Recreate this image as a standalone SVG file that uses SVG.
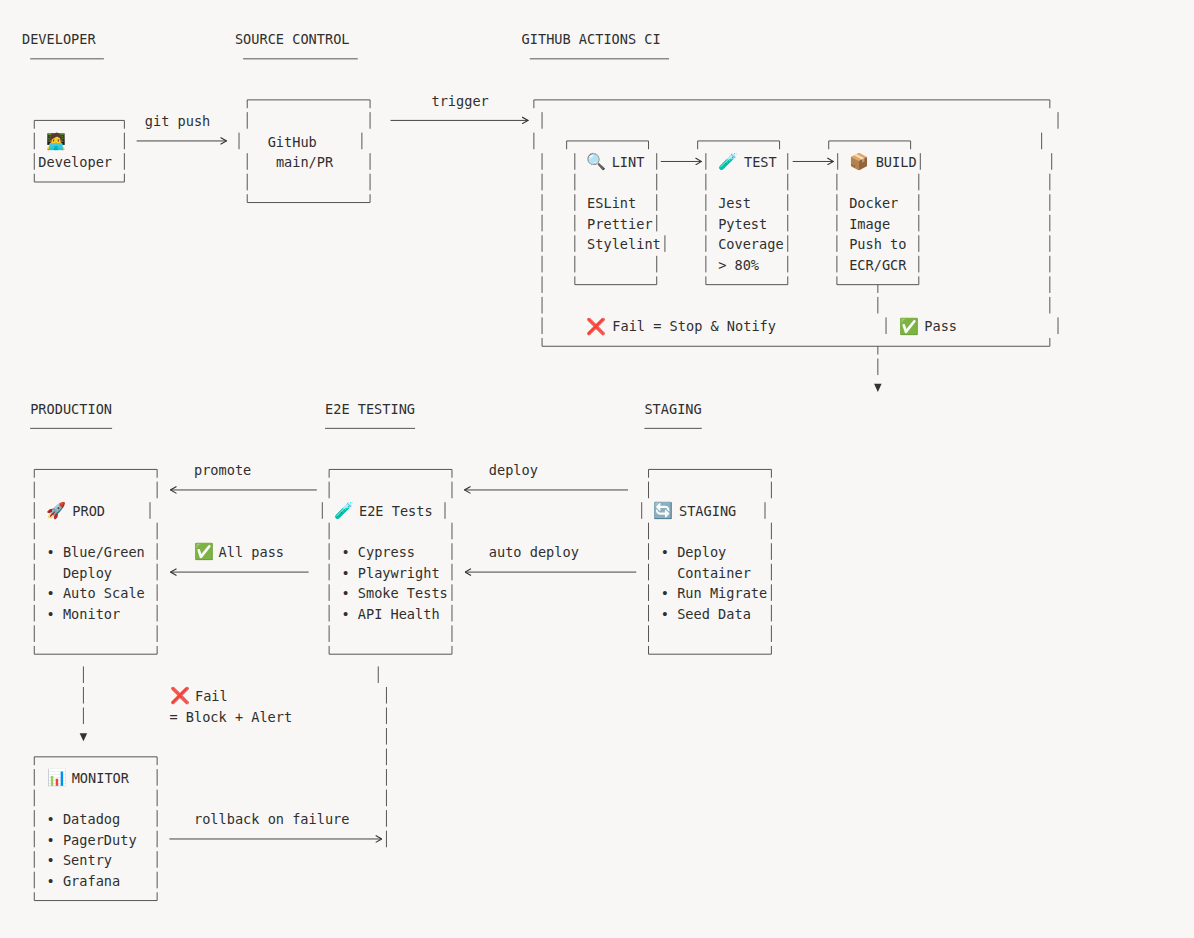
<svg xmlns="http://www.w3.org/2000/svg" width="1194" height="938" viewBox="0 0 1194 938">
<style>
.t{font-family:'DejaVu Sans Mono','Liberation Mono',monospace;font-size:13.6px;fill:#2f2f2f}
.e{font-family:'Noto Color Emoji','DejaVu Sans',sans-serif;font-size:16px}
line{stroke:#555;stroke-width:1;fill:none}
.vc{stroke-dasharray:16.6 3.93;stroke-dashoffset:8.3}
.vr{stroke-dasharray:16.6 3.93;stroke-dashoffset:0}
.c{stroke:#444;stroke-width:1;fill:none}
.tri{fill:#333}
</style>
<defs>
<marker id="chev" viewBox="0 0 7 8" refX="6.5" refY="4" markerWidth="7" markerHeight="8" markerUnits="userSpaceOnUse" orient="auto"><path d="M0.5,0.6 L6.5,4 L0.5,7.4" fill="none" stroke="#333" stroke-width="1.1"/></marker>
</defs>
<rect x="0" y="0" width="1194" height="938" fill="#f8f7f5"/>

<g id="headers">
<text class="t" x="21.99" y="44">DEVELOPER</text>
<text class="t" x="234.93" y="44">SOURCE CONTROL</text>
<text class="t" x="521.58" y="44">GITHUB ACTIONS CI</text>
<line x1="30.18" y1="58.83" x2="103.89" y2="58.83"/>
<line x1="243.12" y1="58.83" x2="357.78" y2="58.83"/>
<line x1="529.77" y1="58.83" x2="669" y2="58.83"/>
<text class="t" x="30.18" y="413.5">PRODUCTION</text>
<text class="t" x="325.02" y="413.5">E2E TESTING</text>
<text class="t" x="644.43" y="413.5">STAGING</text>
<line x1="30.18" y1="428.37" x2="112.08" y2="428.37"/>
<line x1="325.02" y1="428.37" x2="415.11" y2="428.37"/>
<line x1="644.43" y1="428.37" x2="701.76" y2="428.37"/>
</g>

<g id="node-developer">
<line x1="34.28" y1="120.42" x2="124.37" y2="120.42"/>
<line x1="34.28" y1="182.01" x2="124.37" y2="182.01"/>
<line class="vc" x1="34.28" y1="120.42" x2="34.28" y2="182.01"/>
<line class="vc" x1="124.37" y1="120.42" x2="124.37" y2="182.01"/>
<text class="e" x="46.5" y="146.5">&#x1F9D1;&#x200D;&#x1F4BB;</text>
<text class="t" x="38.37" y="167.2">Developer</text>
</g>

<g id="node-github">
<line x1="247.22" y1="99.89" x2="370.07" y2="99.89"/>
<line x1="247.22" y1="202.54" x2="370.07" y2="202.54"/>
<line class="vc" x1="247.22" y1="99.89" x2="247.22" y2="128.72"/>
<line class="vr" x1="239.03" y1="132.65" x2="239.03" y2="149.25"/>
<line class="vr" x1="247.22" y1="153.18" x2="247.22" y2="202.54"/>
<line class="vc" x1="370.07" y1="99.89" x2="370.07" y2="128.72"/>
<line class="vr" x1="361.88" y1="132.65" x2="361.88" y2="149.25"/>
<line class="vr" x1="370.07" y1="153.18" x2="370.07" y2="202.54"/>
<text class="t" x="267.69" y="146.65">GitHub</text>
<text class="t" x="275.88" y="167.2">main/PR</text>
</g>

<g id="node-ci">
<line x1="533.87" y1="99.89" x2="1049.84" y2="99.89"/>
<line x1="542.06" y1="346.25" x2="1049.84" y2="346.25"/>
<line class="vc" x1="533.87" y1="99.89" x2="533.87" y2="108.19"/>
<line class="vr" x1="542.06" y1="112.12" x2="542.06" y2="128.72"/>
<line class="vr" x1="533.87" y1="132.65" x2="533.87" y2="149.25"/>
<line class="vr" x1="542.06" y1="153.18" x2="542.06" y2="346.25"/>
<line class="vc" x1="1049.84" y1="99.89" x2="1049.84" y2="108.19"/>
<line class="vr" x1="1058.03" y1="112.12" x2="1058.03" y2="128.72"/>
<line class="vr" x1="1041.65" y1="132.65" x2="1041.65" y2="149.25"/>
<line class="vr" x1="1051.7" y1="153.18" x2="1051.7" y2="169.78"/>
<line class="vr" x1="1049.84" y1="173.71" x2="1049.84" y2="313.49"/>
<line class="vr" x1="1058.03" y1="317.42" x2="1058.03" y2="334.02"/>
<line class="vr" x1="1049.84" y1="337.95" x2="1049.84" y2="346.25"/>
<text class="e" x="586" y="331.6">&#x274C;</text>
<text class="t" x="612.3" y="331.4">Fail = Stop &amp; Notify</text>

<g id="node-lint">
<line x1="566.63" y1="140.95" x2="648.53" y2="140.95"/>
<line class="vc" x1="566.63" y1="140.95" x2="566.63" y2="149.25"/>
<line class="vc" x1="648.53" y1="140.95" x2="648.53" y2="149.25"/>
<line class="vr" x1="574.82" y1="153.18" x2="574.82" y2="284.66"/>
<line class="vr" x1="656.72" y1="153.18" x2="656.72" y2="231.37"/>
<line class="vr" x1="664.91" y1="235.3" x2="664.91" y2="251.9"/>
<line class="vr" x1="656.72" y1="255.83" x2="656.72" y2="284.66"/>
<line x1="574.82" y1="284.66" x2="656.72" y2="284.66"/>
<text class="e" x="586" y="167.3">&#x1F50D;</text>
<text class="t" x="611.67" y="167.2">LINT</text>
<text class="t" x="587.1" y="208.2">ESLint</text>
<text class="t" x="587.1" y="228.8">Prettier</text>
<text class="t" x="587.1" y="249.3">Stylelint</text>
</g>

<g id="node-test">
<line x1="697.67" y1="140.95" x2="779.57" y2="140.95"/>
<line class="vc" x1="697.67" y1="140.95" x2="697.67" y2="149.25"/>
<line class="vc" x1="779.57" y1="140.95" x2="779.57" y2="149.25"/>
<line class="vr" x1="705.86" y1="153.18" x2="705.86" y2="284.66"/>
<line class="vr" x1="787.76" y1="153.18" x2="787.76" y2="284.66"/>
<line x1="705.86" y1="284.66" x2="787.76" y2="284.66"/>
<text class="e" x="718" y="167.3">&#x1F9EA;</text>
<text class="t" x="744" y="167.2">TEST</text>
<text class="t" x="718.14" y="208.2">Jest</text>
<text class="t" x="718.14" y="228.8">Pytest</text>
<text class="t" x="718.14" y="249.3">Coverage</text>
<text class="t" x="718.14" y="269.8">&gt; 80%</text>
</g>

<g id="node-build">
<line x1="828.71" y1="140.95" x2="910.61" y2="140.95"/>
<line class="vc" x1="828.71" y1="140.95" x2="828.71" y2="149.25"/>
<line class="vc" x1="910.61" y1="140.95" x2="910.61" y2="149.25"/>
<line class="vr" x1="837.7" y1="153.18" x2="837.7" y2="169.78"/>
<line class="vr" x1="836.9" y1="173.71" x2="836.9" y2="284.66"/>
<line class="vr" x1="920.3" y1="153.18" x2="920.3" y2="169.78"/>
<line class="vr" x1="918.8" y1="173.71" x2="918.8" y2="284.66"/>
<line x1="836.9" y1="284.66" x2="918.8" y2="284.66"/>
<text class="e" x="849" y="167.3">&#x1F4E6;</text>
<text class="t" x="875.7" y="167.2">BUILD</text>
<text class="t" x="849.18" y="208.2">Docker</text>
<text class="t" x="849.18" y="228.8">Image</text>
<text class="t" x="849.18" y="249.3">Push to</text>
<text class="t" x="849.18" y="269.8">ECR/GCR</text>
</g>
</g>

<g id="node-prod">
<line x1="34.28" y1="469.43" x2="157.13" y2="469.43"/>
<line x1="34.28" y1="654.2" x2="157.13" y2="654.2"/>
<line class="vc" x1="34.28" y1="469.43" x2="34.28" y2="654.2"/>
<line class="vc" x1="157.13" y1="469.43" x2="157.13" y2="498.26"/>
<line class="vr" x1="150" y1="502.19" x2="150" y2="518.79"/>
<line class="vr" x1="157.13" y1="522.72" x2="157.13" y2="654.2"/>
<text class="e" x="46" y="516.3">&#x1F680;</text>
<text class="t" x="72.3" y="516.2">PROD</text>
<text class="t" x="46.56" y="557.2">• Blue/Green</text>
<text class="t" x="62.94" y="577.8">Deploy</text>
<text class="t" x="46.56" y="598.3">• Auto Scale</text>
<text class="t" x="46.56" y="618.8">• Monitor</text>
</g>

<g id="node-e2e">
<line x1="329.12" y1="469.43" x2="451.97" y2="469.43"/>
<line x1="329.12" y1="654.2" x2="451.97" y2="654.2"/>
<line class="vc" x1="329.12" y1="469.43" x2="329.12" y2="498.26"/>
<line class="vr" x1="322.3" y1="502.19" x2="322.3" y2="518.79"/>
<line class="vr" x1="329.12" y1="522.72" x2="329.12" y2="654.2"/>
<line class="vc" x1="451.97" y1="469.43" x2="451.97" y2="498.26"/>
<line class="vr" x1="445" y1="502.19" x2="445" y2="518.79"/>
<line class="vr" x1="451.97" y1="522.72" x2="451.97" y2="654.2"/>
<text class="e" x="334" y="516.3">&#x1F9EA;</text>
<text class="t" x="359" y="516.2">E2E Tests</text>
<text class="t" x="341.4" y="557.2">• Cypress</text>
<text class="t" x="341.4" y="577.8">• Playwright</text>
<text class="t" x="341.4" y="598.3">• Smoke Tests</text>
<text class="t" x="341.4" y="618.8">• API Health</text>
</g>

<g id="node-staging">
<line x1="648.53" y1="469.43" x2="771.38" y2="469.43"/>
<line x1="648.53" y1="654.2" x2="771.38" y2="654.2"/>
<line class="vc" x1="648.53" y1="469.43" x2="648.53" y2="498.26"/>
<line class="vr" x1="641.7" y1="502.19" x2="641.7" y2="518.79"/>
<line class="vr" x1="648.53" y1="522.72" x2="648.53" y2="654.2"/>
<line class="vc" x1="771.38" y1="469.43" x2="771.38" y2="498.26"/>
<line class="vr" x1="765" y1="502.19" x2="765" y2="518.79"/>
<line class="vr" x1="771.38" y1="522.72" x2="771.38" y2="654.2"/>
<text class="e" x="653.5" y="516.3">&#x1F504;</text>
<text class="t" x="679" y="516.2">STAGING</text>
<text class="t" x="660.81" y="557.2">• Deploy</text>
<text class="t" x="677.19" y="577.8">Container</text>
<text class="t" x="660.81" y="598.3">• Run Migrate</text>
<text class="t" x="660.81" y="618.8">• Seed Data</text>
</g>

<g id="node-monitor">
<line x1="34.28" y1="756.85" x2="157.13" y2="756.85"/>
<line x1="34.28" y1="900.56" x2="157.13" y2="900.56"/>
<line class="vc" x1="34.28" y1="756.85" x2="34.28" y2="900.56"/>
<line class="vc" x1="157.13" y1="756.85" x2="157.13" y2="900.56"/>
<text class="e" x="47.5" y="783.2">&#x1F4CA;</text>
<text class="t" x="71.7" y="783.1">MONITOR</text>
<text class="t" x="46.56" y="824.1">• Datadog</text>
<text class="t" x="46.56" y="844.7">• PagerDuty</text>
<text class="t" x="46.56" y="865.2">• Sentry</text>
<text class="t" x="46.56" y="885.7">• Grafana</text>
</g>

<g id="connectors">
<path class="c" d="M136.65,140.95 H226.5" marker-end="url(#chev)"/>
<text class="t" x="144.84" y="126.1">git push</text>
<path class="c" d="M390.54,120.42 H528" marker-end="url(#chev)"/>
<text class="t" x="431.49" y="105.6">trigger</text>
<path class="c" d="M660.81,161.48 H701.5" marker-end="url(#chev)"/>
<path class="c" d="M792.7,161.48 H833.3" marker-end="url(#chev)"/>
<line class="vc" x1="877.85" y1="284.66" x2="877.85" y2="313.49"/>
<line class="vr" x1="886.04" y1="317.42" x2="886.04" y2="334.02"/>
<line class="vc" x1="877.85" y1="346.25" x2="877.85" y2="375.08"/>
<polygon class="tri" points="874.1,383.7 881.6,383.7 877.85,392"/>
<text class="e" x="899" y="331.6">&#x2705;</text>
<text class="t" x="924.3" y="331.4">Pass</text>

<path class="c" d="M316.83,489.96 H170.5" marker-end="url(#chev)"/>
<text class="t" x="193.98" y="475.1">promote</text>
<path class="c" d="M628.05,489.96 H464.5" marker-end="url(#chev)"/>
<text class="t" x="488.82" y="475.1">deploy</text>
<path class="c" d="M308.64,572.08 H170.5" marker-end="url(#chev)"/>
<text class="e" x="194" y="557.4">&#x2705;</text>
<text class="t" x="218.55" y="557.2">All pass</text>
<path class="c" d="M636.24,572.08 H465" marker-end="url(#chev)"/>
<text class="t" x="488.82" y="557.2">auto deploy</text>

<line class="vr" x1="83.42" y1="666.43" x2="83.42" y2="724.09"/>
<polygon class="tri" points="79.67,733.3 87.17,733.3 83.42,741.3"/>

<line class="vr" x1="378.26" y1="666.43" x2="378.26" y2="683.03"/>
<line class="vr" x1="386.45" y1="686.96" x2="386.45" y2="847.27"/>
<path class="c" d="M169.41,838.97 H381.7" marker-end="url(#chev)"/>
<text class="e" x="170" y="701.1">&#x274C;</text>
<text class="t" x="195" y="701">Fail</text>
<text class="t" x="169.41" y="721.5">= Block + Alert</text>
<text class="t" x="193.98" y="824.1">rollback on failure</text>
</g>
</svg>
